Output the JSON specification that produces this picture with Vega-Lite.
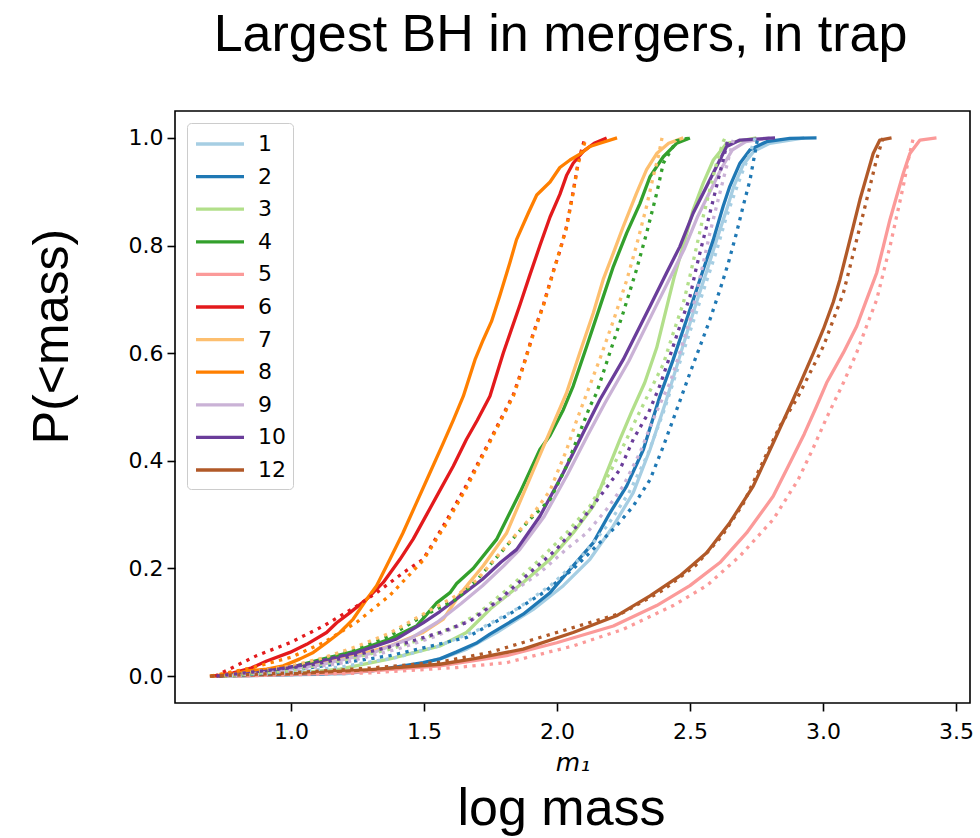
{
  "$schema": "https://vega.github.io/schema/vega-lite/v6.json",
  "width": 795,
  "height": 592,
  "autosize": {"type": "none"},
  "padding": {"left": 175, "top": 111, "right": 10, "bottom": 135},
  "background": "white",
  "title": {
    "text": "Largest BH in mergers, in trap",
    "font": "Liberation Sans", "fontSize": 52, "fontWeight": "normal", "color": "black",
    "frame": "group", "anchor": "middle", "dx": -12, "offset": 8, "baseline": "alphabetic"
  },
  "config": {
    "view": {"stroke": "black", "strokeWidth": 1.6},
    "legend": {
      "orient": "top-left", "offset": 12, "title": null,
      "symbolType": "M-1,0H3", "symbolSize": 576, "symbolStrokeWidth": 3.3,
      "labelFont": "DejaVu Sans", "labelFontSize": 22, "labelColor": "black", "labelOffset": 36,
      "rowPadding": 7.6, "padding": 7,
      "fillColor": "white", "strokeColor": "#cccccc", "cornerRadius": 4
    }
  },
  "data": {"values": [
    {"s":"1","kind":"ecdf","x":0.78,"y":0},{"s":"1","kind":"ecdf","x":1.2,"y":0.004},{"s":"1","kind":"ecdf","x":1.45,"y":0.018},{"s":"1","kind":"ecdf","x":1.58,"y":0.035},{"s":"1","kind":"ecdf","x":1.661,"y":0.05},{"s":"1","kind":"ecdf","x":1.773,"y":0.081},{"s":"1","kind":"ecdf","x":1.911,"y":0.124},{"s":"1","kind":"ecdf","x":2.024,"y":0.168},{"s":"1","kind":"ecdf","x":2.124,"y":0.217},{"s":"1","kind":"ecdf","x":2.212,"y":0.279},{"s":"1","kind":"ecdf","x":2.287,"y":0.341},{"s":"1","kind":"ecdf","x":2.35,"y":0.421},{"s":"1","kind":"ecdf","x":2.412,"y":0.514},{"s":"1","kind":"ecdf","x":2.45,"y":0.575},{"s":"1","kind":"ecdf","x":2.49,"y":0.64},{"s":"1","kind":"ecdf","x":2.525,"y":0.695},{"s":"1","kind":"ecdf","x":2.565,"y":0.755},{"s":"1","kind":"ecdf","x":2.6,"y":0.81},{"s":"1","kind":"ecdf","x":2.64,"y":0.87},{"s":"1","kind":"ecdf","x":2.665,"y":0.91},{"s":"1","kind":"ecdf","x":2.7,"y":0.95},{"s":"1","kind":"ecdf","x":2.74,"y":0.975},{"s":"1","kind":"ecdf","x":2.8,"y":0.99},{"s":"1","kind":"ecdf","x":2.93,"y":1.0},
    {"s":"1","kind":"fit","x":0.77,"y":0},{"s":"1","kind":"fit","x":1.0,"y":0.006},{"s":"1","kind":"fit","x":1.2,"y":0.018},{"s":"1","kind":"fit","x":1.4,"y":0.035},{"s":"1","kind":"fit","x":1.55,"y":0.055},{"s":"1","kind":"fit","x":1.7,"y":0.085},{"s":"1","kind":"fit","x":1.85,"y":0.125},{"s":"1","kind":"fit","x":1.98,"y":0.17},{"s":"1","kind":"fit","x":2.09,"y":0.22},{"s":"1","kind":"fit","x":2.19,"y":0.28},{"s":"1","kind":"fit","x":2.27,"y":0.34},{"s":"1","kind":"fit","x":2.34,"y":0.41},{"s":"1","kind":"fit","x":2.4,"y":0.49},{"s":"1","kind":"fit","x":2.44,"y":0.55},{"s":"1","kind":"fit","x":2.48,"y":0.61},{"s":"1","kind":"fit","x":2.52,"y":0.67},{"s":"1","kind":"fit","x":2.56,"y":0.73},{"s":"1","kind":"fit","x":2.6,"y":0.79},{"s":"1","kind":"fit","x":2.635,"y":0.85},{"s":"1","kind":"fit","x":2.67,"y":0.9},{"s":"1","kind":"fit","x":2.7,"y":0.94},{"s":"1","kind":"fit","x":2.725,"y":0.97},{"s":"1","kind":"fit","x":2.745,"y":1.0},
    {"s":"2","kind":"ecdf","x":0.75,"y":0},{"s":"2","kind":"ecdf","x":1.122,"y":0.004},{"s":"2","kind":"ecdf","x":1.31,"y":0.01},{"s":"2","kind":"ecdf","x":1.497,"y":0.025},{"s":"2","kind":"ecdf","x":1.56,"y":0.032},{"s":"2","kind":"ecdf","x":1.623,"y":0.045},{"s":"2","kind":"ecdf","x":1.7,"y":0.062},{"s":"2","kind":"ecdf","x":1.748,"y":0.078},{"s":"2","kind":"ecdf","x":1.873,"y":0.115},{"s":"2","kind":"ecdf","x":1.974,"y":0.155},{"s":"2","kind":"ecdf","x":2.061,"y":0.205},{"s":"2","kind":"ecdf","x":2.137,"y":0.248},{"s":"2","kind":"ecdf","x":2.199,"y":0.303},{"s":"2","kind":"ecdf","x":2.262,"y":0.353},{"s":"2","kind":"ecdf","x":2.325,"y":0.421},{"s":"2","kind":"ecdf","x":2.387,"y":0.52},{"s":"2","kind":"ecdf","x":2.437,"y":0.588},{"s":"2","kind":"ecdf","x":2.475,"y":0.644},{"s":"2","kind":"ecdf","x":2.512,"y":0.699},{"s":"2","kind":"ecdf","x":2.55,"y":0.755},{"s":"2","kind":"ecdf","x":2.588,"y":0.811},{"s":"2","kind":"ecdf","x":2.625,"y":0.873},{"s":"2","kind":"ecdf","x":2.65,"y":0.91},{"s":"2","kind":"ecdf","x":2.688,"y":0.953},{"s":"2","kind":"ecdf","x":2.726,"y":0.978},{"s":"2","kind":"ecdf","x":2.788,"y":0.993},{"s":"2","kind":"ecdf","x":2.876,"y":0.999},{"s":"2","kind":"ecdf","x":2.976,"y":1.0},
    {"s":"2","kind":"fit","x":0.75,"y":0},{"s":"2","kind":"fit","x":0.93,"y":0.006},{"s":"2","kind":"fit","x":1.122,"y":0.019},{"s":"2","kind":"fit","x":1.372,"y":0.038},{"s":"2","kind":"fit","x":1.52,"y":0.055},{"s":"2","kind":"fit","x":1.661,"y":0.072},{"s":"2","kind":"fit","x":1.811,"y":0.112},{"s":"2","kind":"fit","x":1.949,"y":0.155},{"s":"2","kind":"fit","x":2.061,"y":0.199},{"s":"2","kind":"fit","x":2.149,"y":0.242},{"s":"2","kind":"fit","x":2.224,"y":0.279},{"s":"2","kind":"fit","x":2.287,"y":0.316},{"s":"2","kind":"fit","x":2.35,"y":0.365},{"s":"2","kind":"fit","x":2.4,"y":0.427},{"s":"2","kind":"fit","x":2.437,"y":0.477},{"s":"2","kind":"fit","x":2.462,"y":0.511},{"s":"2","kind":"fit","x":2.5,"y":0.563},{"s":"2","kind":"fit","x":2.538,"y":0.613},{"s":"2","kind":"fit","x":2.575,"y":0.662},{"s":"2","kind":"fit","x":2.613,"y":0.718},{"s":"2","kind":"fit","x":2.644,"y":0.767},{"s":"2","kind":"fit","x":2.675,"y":0.823},{"s":"2","kind":"fit","x":2.7,"y":0.873},{"s":"2","kind":"fit","x":2.726,"y":0.922},{"s":"2","kind":"fit","x":2.744,"y":0.971},{"s":"2","kind":"fit","x":2.755,"y":1.0},
    {"s":"3","kind":"ecdf","x":0.75,"y":0},{"s":"3","kind":"ecdf","x":0.996,"y":0.004},{"s":"3","kind":"ecdf","x":1.184,"y":0.013},{"s":"3","kind":"ecdf","x":1.372,"y":0.032},{"s":"3","kind":"ecdf","x":1.56,"y":0.056},{"s":"3","kind":"ecdf","x":1.66,"y":0.081},{"s":"3","kind":"ecdf","x":1.75,"y":0.125},{"s":"3","kind":"ecdf","x":1.873,"y":0.174},{"s":"3","kind":"ecdf","x":1.974,"y":0.217},{"s":"3","kind":"ecdf","x":2.061,"y":0.266},{"s":"3","kind":"ecdf","x":2.137,"y":0.316},{"s":"3","kind":"ecdf","x":2.187,"y":0.378},{"s":"3","kind":"ecdf","x":2.237,"y":0.44},{"s":"3","kind":"ecdf","x":2.28,"y":0.49},{"s":"3","kind":"ecdf","x":2.33,"y":0.545},{"s":"3","kind":"ecdf","x":2.375,"y":0.61},{"s":"3","kind":"ecdf","x":2.41,"y":0.68},{"s":"3","kind":"ecdf","x":2.44,"y":0.74},{"s":"3","kind":"ecdf","x":2.475,"y":0.8},{"s":"3","kind":"ecdf","x":2.512,"y":0.866},{"s":"3","kind":"ecdf","x":2.55,"y":0.916},{"s":"3","kind":"ecdf","x":2.588,"y":0.959},{"s":"3","kind":"ecdf","x":2.638,"y":0.99},{"s":"3","kind":"ecdf","x":2.75,"y":1.0},
    {"s":"3","kind":"fit","x":0.75,"y":0},{"s":"3","kind":"fit","x":0.996,"y":0.01},{"s":"3","kind":"fit","x":1.184,"y":0.028},{"s":"3","kind":"fit","x":1.372,"y":0.05},{"s":"3","kind":"fit","x":1.497,"y":0.069},{"s":"3","kind":"fit","x":1.623,"y":0.093},{"s":"3","kind":"fit","x":1.7,"y":0.115},{"s":"3","kind":"fit","x":1.811,"y":0.16},{"s":"3","kind":"fit","x":1.936,"y":0.217},{"s":"3","kind":"fit","x":2.036,"y":0.266},{"s":"3","kind":"fit","x":2.124,"y":0.316},{"s":"3","kind":"fit","x":2.199,"y":0.378},{"s":"3","kind":"fit","x":2.262,"y":0.44},{"s":"3","kind":"fit","x":2.3,"y":0.48},{"s":"3","kind":"fit","x":2.35,"y":0.53},{"s":"3","kind":"fit","x":2.4,"y":0.58},{"s":"3","kind":"fit","x":2.437,"y":0.637},{"s":"3","kind":"fit","x":2.475,"y":0.693},{"s":"3","kind":"fit","x":2.5,"y":0.743},{"s":"3","kind":"fit","x":2.525,"y":0.798},{"s":"3","kind":"fit","x":2.55,"y":0.854},{"s":"3","kind":"fit","x":2.575,"y":0.904},{"s":"3","kind":"fit","x":2.6,"y":0.953},{"s":"3","kind":"fit","x":2.625,"y":0.993},{"s":"3","kind":"fit","x":2.632,"y":1.0},
    {"s":"4","kind":"ecdf","x":0.73,"y":0},{"s":"4","kind":"ecdf","x":0.871,"y":0.006},{"s":"4","kind":"ecdf","x":0.996,"y":0.016},{"s":"4","kind":"ecdf","x":1.122,"y":0.032},{"s":"4","kind":"ecdf","x":1.247,"y":0.047},{"s":"4","kind":"ecdf","x":1.372,"y":0.069},{"s":"4","kind":"ecdf","x":1.472,"y":0.093},{"s":"4","kind":"ecdf","x":1.548,"y":0.136},{"s":"4","kind":"ecdf","x":1.598,"y":0.155},{"s":"4","kind":"ecdf","x":1.623,"y":0.172},{"s":"4","kind":"ecdf","x":1.685,"y":0.2},{"s":"4","kind":"ecdf","x":1.773,"y":0.254},{"s":"4","kind":"ecdf","x":1.861,"y":0.341},{"s":"4","kind":"ecdf","x":1.936,"y":0.421},{"s":"4","kind":"ecdf","x":1.974,"y":0.447},{"s":"4","kind":"ecdf","x":2.024,"y":0.495},{"s":"4","kind":"ecdf","x":2.061,"y":0.539},{"s":"4","kind":"ecdf","x":2.112,"y":0.613},{"s":"4","kind":"ecdf","x":2.162,"y":0.687},{"s":"4","kind":"ecdf","x":2.212,"y":0.761},{"s":"4","kind":"ecdf","x":2.262,"y":0.823},{"s":"4","kind":"ecdf","x":2.312,"y":0.878},{"s":"4","kind":"ecdf","x":2.35,"y":0.928},{"s":"4","kind":"ecdf","x":2.4,"y":0.965},{"s":"4","kind":"ecdf","x":2.45,"y":0.99},{"s":"4","kind":"ecdf","x":2.5,"y":1.0},
    {"s":"4","kind":"fit","x":0.75,"y":0},{"s":"4","kind":"fit","x":0.996,"y":0.016},{"s":"4","kind":"fit","x":1.122,"y":0.032},{"s":"4","kind":"fit","x":1.247,"y":0.05},{"s":"4","kind":"fit","x":1.372,"y":0.075},{"s":"4","kind":"fit","x":1.497,"y":0.112},{"s":"4","kind":"fit","x":1.623,"y":0.143},{"s":"4","kind":"fit","x":1.698,"y":0.178},{"s":"4","kind":"fit","x":1.811,"y":0.242},{"s":"4","kind":"fit","x":1.898,"y":0.291},{"s":"4","kind":"fit","x":1.974,"y":0.328},{"s":"4","kind":"fit","x":2.036,"y":0.39},{"s":"4","kind":"fit","x":2.124,"y":0.501},{"s":"4","kind":"fit","x":2.149,"y":0.526},{"s":"4","kind":"fit","x":2.199,"y":0.601},{"s":"4","kind":"fit","x":2.249,"y":0.675},{"s":"4","kind":"fit","x":2.299,"y":0.755},{"s":"4","kind":"fit","x":2.337,"y":0.823},{"s":"4","kind":"fit","x":2.375,"y":0.897},{"s":"4","kind":"fit","x":2.4,"y":0.953},{"s":"4","kind":"fit","x":2.45,"y":0.995},{"s":"4","kind":"fit","x":2.5,"y":1.0},
    {"s":"5","kind":"ecdf","x":0.75,"y":0},{"s":"5","kind":"ecdf","x":1.2,"y":0.006},{"s":"5","kind":"ecdf","x":1.56,"y":0.019},{"s":"5","kind":"ecdf","x":1.811,"y":0.038},{"s":"5","kind":"ecdf","x":1.999,"y":0.062},{"s":"5","kind":"ecdf","x":2.212,"y":0.093},{"s":"5","kind":"ecdf","x":2.375,"y":0.131},{"s":"5","kind":"ecdf","x":2.5,"y":0.168},{"s":"5","kind":"ecdf","x":2.613,"y":0.211},{"s":"5","kind":"ecdf","x":2.713,"y":0.266},{"s":"5","kind":"ecdf","x":2.813,"y":0.334},{"s":"5","kind":"ecdf","x":2.88,"y":0.4},{"s":"5","kind":"ecdf","x":2.93,"y":0.45},{"s":"5","kind":"ecdf","x":2.975,"y":0.5},{"s":"5","kind":"ecdf","x":3.014,"y":0.545},{"s":"5","kind":"ecdf","x":3.077,"y":0.601},{"s":"5","kind":"ecdf","x":3.127,"y":0.65},{"s":"5","kind":"ecdf","x":3.164,"y":0.699},{"s":"5","kind":"ecdf","x":3.202,"y":0.749},{"s":"5","kind":"ecdf","x":3.227,"y":0.798},{"s":"5","kind":"ecdf","x":3.252,"y":0.848},{"s":"5","kind":"ecdf","x":3.277,"y":0.891},{"s":"5","kind":"ecdf","x":3.302,"y":0.934},{"s":"5","kind":"ecdf","x":3.327,"y":0.971},{"s":"5","kind":"ecdf","x":3.365,"y":0.996},{"s":"5","kind":"ecdf","x":3.427,"y":1.0},
    {"s":"5","kind":"fit","x":0.8,"y":0},{"s":"5","kind":"fit","x":1.3,"y":0.006},{"s":"5","kind":"fit","x":1.623,"y":0.016},{"s":"5","kind":"fit","x":1.811,"y":0.025},{"s":"5","kind":"fit","x":2.061,"y":0.056},{"s":"5","kind":"fit","x":2.249,"y":0.087},{"s":"5","kind":"fit","x":2.437,"y":0.131},{"s":"5","kind":"fit","x":2.563,"y":0.168},{"s":"5","kind":"fit","x":2.688,"y":0.223},{"s":"5","kind":"fit","x":2.813,"y":0.291},{"s":"5","kind":"fit","x":2.907,"y":0.365},{"s":"5","kind":"fit","x":2.96,"y":0.42},{"s":"5","kind":"fit","x":3.014,"y":0.48},{"s":"5","kind":"fit","x":3.077,"y":0.545},{"s":"5","kind":"fit","x":3.127,"y":0.601},{"s":"5","kind":"fit","x":3.164,"y":0.65},{"s":"5","kind":"fit","x":3.202,"y":0.699},{"s":"5","kind":"fit","x":3.227,"y":0.749},{"s":"5","kind":"fit","x":3.252,"y":0.798},{"s":"5","kind":"fit","x":3.277,"y":0.854},{"s":"5","kind":"fit","x":3.302,"y":0.91},{"s":"5","kind":"fit","x":3.321,"y":0.959},{"s":"5","kind":"fit","x":3.34,"y":1.0},
    {"s":"6","kind":"ecdf","x":0.72,"y":0},{"s":"6","kind":"ecdf","x":0.783,"y":0.006},{"s":"6","kind":"ecdf","x":0.85,"y":0.015},{"s":"6","kind":"ecdf","x":0.909,"y":0.028},{"s":"6","kind":"ecdf","x":0.996,"y":0.044},{"s":"6","kind":"ecdf","x":1.059,"y":0.059},{"s":"6","kind":"ecdf","x":1.134,"y":0.081},{"s":"6","kind":"ecdf","x":1.172,"y":0.099},{"s":"6","kind":"ecdf","x":1.222,"y":0.118},{"s":"6","kind":"ecdf","x":1.285,"y":0.143},{"s":"6","kind":"ecdf","x":1.347,"y":0.174},{"s":"6","kind":"ecdf","x":1.41,"y":0.217},{"s":"6","kind":"ecdf","x":1.46,"y":0.255},{"s":"6","kind":"ecdf","x":1.51,"y":0.3},{"s":"6","kind":"ecdf","x":1.56,"y":0.345},{"s":"6","kind":"ecdf","x":1.61,"y":0.39},{"s":"6","kind":"ecdf","x":1.66,"y":0.44},{"s":"6","kind":"ecdf","x":1.7,"y":0.475},{"s":"6","kind":"ecdf","x":1.748,"y":0.52},{"s":"6","kind":"ecdf","x":1.798,"y":0.6},{"s":"6","kind":"ecdf","x":1.861,"y":0.69},{"s":"6","kind":"ecdf","x":1.898,"y":0.745},{"s":"6","kind":"ecdf","x":1.936,"y":0.8},{"s":"6","kind":"ecdf","x":1.974,"y":0.853},{"s":"6","kind":"ecdf","x":2.011,"y":0.895},{"s":"6","kind":"ecdf","x":2.036,"y":0.93},{"s":"6","kind":"ecdf","x":2.061,"y":0.953},{"s":"6","kind":"ecdf","x":2.099,"y":0.975},{"s":"6","kind":"ecdf","x":2.14,"y":0.99},{"s":"6","kind":"ecdf","x":2.187,"y":1.0},
    {"s":"6","kind":"fit","x":0.715,"y":0},{"s":"6","kind":"fit","x":0.871,"y":0.038},{"s":"6","kind":"fit","x":0.996,"y":0.062},{"s":"6","kind":"fit","x":1.122,"y":0.093},{"s":"6","kind":"fit","x":1.247,"y":0.13},{"s":"6","kind":"fit","x":1.322,"y":0.155},{"s":"6","kind":"fit","x":1.422,"y":0.192},{"s":"6","kind":"fit","x":1.497,"y":0.217},{"s":"6","kind":"fit","x":1.58,"y":0.285},{"s":"6","kind":"fit","x":1.66,"y":0.355},{"s":"6","kind":"fit","x":1.75,"y":0.44},{"s":"6","kind":"fit","x":1.836,"y":0.523},{"s":"6","kind":"fit","x":1.873,"y":0.576},{"s":"6","kind":"fit","x":1.911,"y":0.637},{"s":"6","kind":"fit","x":1.949,"y":0.69},{"s":"6","kind":"fit","x":1.986,"y":0.752},{"s":"6","kind":"fit","x":2.011,"y":0.79},{"s":"6","kind":"fit","x":2.036,"y":0.835},{"s":"6","kind":"fit","x":2.061,"y":0.9},{"s":"6","kind":"fit","x":2.08,"y":0.955},{"s":"6","kind":"fit","x":2.105,"y":1.0},
    {"s":"7","kind":"ecdf","x":0.75,"y":0},{"s":"7","kind":"ecdf","x":0.871,"y":0.004},{"s":"7","kind":"ecdf","x":1.059,"y":0.019},{"s":"7","kind":"ecdf","x":1.247,"y":0.038},{"s":"7","kind":"ecdf","x":1.372,"y":0.056},{"s":"7","kind":"ecdf","x":1.497,"y":0.081},{"s":"7","kind":"ecdf","x":1.573,"y":0.106},{"s":"7","kind":"ecdf","x":1.635,"y":0.152},{"s":"7","kind":"ecdf","x":1.673,"y":0.175},{"s":"7","kind":"ecdf","x":1.723,"y":0.205},{"s":"7","kind":"ecdf","x":1.811,"y":0.266},{"s":"7","kind":"ecdf","x":1.886,"y":0.353},{"s":"7","kind":"ecdf","x":1.961,"y":0.44},{"s":"7","kind":"ecdf","x":2.036,"y":0.526},{"s":"7","kind":"ecdf","x":2.086,"y":0.601},{"s":"7","kind":"ecdf","x":2.137,"y":0.675},{"s":"7","kind":"ecdf","x":2.174,"y":0.737},{"s":"7","kind":"ecdf","x":2.212,"y":0.786},{"s":"7","kind":"ecdf","x":2.249,"y":0.835},{"s":"7","kind":"ecdf","x":2.299,"y":0.897},{"s":"7","kind":"ecdf","x":2.337,"y":0.941},{"s":"7","kind":"ecdf","x":2.375,"y":0.971},{"s":"7","kind":"ecdf","x":2.42,"y":0.99},{"s":"7","kind":"ecdf","x":2.475,"y":1.0},
    {"s":"7","kind":"fit","x":0.75,"y":0},{"s":"7","kind":"fit","x":0.996,"y":0.018},{"s":"7","kind":"fit","x":1.122,"y":0.034},{"s":"7","kind":"fit","x":1.247,"y":0.055},{"s":"7","kind":"fit","x":1.372,"y":0.08},{"s":"7","kind":"fit","x":1.497,"y":0.115},{"s":"7","kind":"fit","x":1.623,"y":0.15},{"s":"7","kind":"fit","x":1.698,"y":0.178},{"s":"7","kind":"fit","x":1.811,"y":0.243},{"s":"7","kind":"fit","x":1.898,"y":0.293},{"s":"7","kind":"fit","x":1.974,"y":0.345},{"s":"7","kind":"fit","x":2.036,"y":0.42},{"s":"7","kind":"fit","x":2.074,"y":0.475},{"s":"7","kind":"fit","x":2.112,"y":0.525},{"s":"7","kind":"fit","x":2.162,"y":0.59},{"s":"7","kind":"fit","x":2.212,"y":0.66},{"s":"7","kind":"fit","x":2.262,"y":0.735},{"s":"7","kind":"fit","x":2.299,"y":0.8},{"s":"7","kind":"fit","x":2.337,"y":0.873},{"s":"7","kind":"fit","x":2.362,"y":0.928},{"s":"7","kind":"fit","x":2.381,"y":0.965},{"s":"7","kind":"fit","x":2.395,"y":1.0},
    {"s":"8","kind":"ecdf","x":0.695,"y":0},{"s":"8","kind":"ecdf","x":0.783,"y":0.004},{"s":"8","kind":"ecdf","x":0.846,"y":0.01},{"s":"8","kind":"ecdf","x":0.909,"y":0.013},{"s":"8","kind":"ecdf","x":0.971,"y":0.019},{"s":"8","kind":"ecdf","x":1.034,"y":0.032},{"s":"8","kind":"ecdf","x":1.084,"y":0.044},{"s":"8","kind":"ecdf","x":1.134,"y":0.062},{"s":"8","kind":"ecdf","x":1.184,"y":0.081},{"s":"8","kind":"ecdf","x":1.234,"y":0.106},{"s":"8","kind":"ecdf","x":1.285,"y":0.143},{"s":"8","kind":"ecdf","x":1.322,"y":0.168},{"s":"8","kind":"ecdf","x":1.372,"y":0.217},{"s":"8","kind":"ecdf","x":1.42,"y":0.265},{"s":"8","kind":"ecdf","x":1.47,"y":0.32},{"s":"8","kind":"ecdf","x":1.52,"y":0.375},{"s":"8","kind":"ecdf","x":1.57,"y":0.43},{"s":"8","kind":"ecdf","x":1.61,"y":0.475},{"s":"8","kind":"ecdf","x":1.648,"y":0.52},{"s":"8","kind":"ecdf","x":1.692,"y":0.588},{"s":"8","kind":"ecdf","x":1.723,"y":0.625},{"s":"8","kind":"ecdf","x":1.754,"y":0.659},{"s":"8","kind":"ecdf","x":1.786,"y":0.708},{"s":"8","kind":"ecdf","x":1.823,"y":0.768},{"s":"8","kind":"ecdf","x":1.848,"y":0.811},{"s":"8","kind":"ecdf","x":1.892,"y":0.86},{"s":"8","kind":"ecdf","x":1.924,"y":0.894},{"s":"8","kind":"ecdf","x":1.974,"y":0.918},{"s":"8","kind":"ecdf","x":2.011,"y":0.945},{"s":"8","kind":"ecdf","x":2.049,"y":0.959},{"s":"8","kind":"ecdf","x":2.086,"y":0.97},{"s":"8","kind":"ecdf","x":2.124,"y":0.984},{"s":"8","kind":"ecdf","x":2.162,"y":0.99},{"s":"8","kind":"ecdf","x":2.226,"y":1.0},
    {"s":"8","kind":"fit","x":0.7,"y":0},{"s":"8","kind":"fit","x":0.85,"y":0.015},{"s":"8","kind":"fit","x":1.0,"y":0.035},{"s":"8","kind":"fit","x":1.122,"y":0.062},{"s":"8","kind":"fit","x":1.247,"y":0.1},{"s":"8","kind":"fit","x":1.372,"y":0.15},{"s":"8","kind":"fit","x":1.497,"y":0.215},{"s":"8","kind":"fit","x":1.58,"y":0.28},{"s":"8","kind":"fit","x":1.66,"y":0.35},{"s":"8","kind":"fit","x":1.75,"y":0.437},{"s":"8","kind":"fit","x":1.836,"y":0.52},{"s":"8","kind":"fit","x":1.873,"y":0.574},{"s":"8","kind":"fit","x":1.911,"y":0.635},{"s":"8","kind":"fit","x":1.949,"y":0.688},{"s":"8","kind":"fit","x":1.986,"y":0.75},{"s":"8","kind":"fit","x":2.036,"y":0.833},{"s":"8","kind":"fit","x":2.061,"y":0.898},{"s":"8","kind":"fit","x":2.08,"y":0.953},{"s":"8","kind":"fit","x":2.11,"y":1.0},
    {"s":"9","kind":"ecdf","x":0.75,"y":0},{"s":"9","kind":"ecdf","x":0.9,"y":0.006},{"s":"9","kind":"ecdf","x":1.1,"y":0.02},{"s":"9","kind":"ecdf","x":1.3,"y":0.042},{"s":"9","kind":"ecdf","x":1.45,"y":0.07},{"s":"9","kind":"ecdf","x":1.55,"y":0.1},{"s":"9","kind":"ecdf","x":1.64,"y":0.135},{"s":"9","kind":"ecdf","x":1.72,"y":0.168},{"s":"9","kind":"ecdf","x":1.8,"y":0.205},{"s":"9","kind":"ecdf","x":1.86,"y":0.235},{"s":"9","kind":"ecdf","x":1.95,"y":0.295},{"s":"9","kind":"ecdf","x":2.04,"y":0.375},{"s":"9","kind":"ecdf","x":2.115,"y":0.447},{"s":"9","kind":"ecdf","x":2.18,"y":0.507},{"s":"9","kind":"ecdf","x":2.27,"y":0.585},{"s":"9","kind":"ecdf","x":2.365,"y":0.68},{"s":"9","kind":"ecdf","x":2.43,"y":0.745},{"s":"9","kind":"ecdf","x":2.48,"y":0.795},{"s":"9","kind":"ecdf","x":2.53,"y":0.855},{"s":"9","kind":"ecdf","x":2.58,"y":0.905},{"s":"9","kind":"ecdf","x":2.62,"y":0.945},{"s":"9","kind":"ecdf","x":2.66,"y":0.978},{"s":"9","kind":"ecdf","x":2.71,"y":0.993},{"s":"9","kind":"ecdf","x":2.8,"y":1.0},
    {"s":"9","kind":"fit","x":0.76,"y":0},{"s":"9","kind":"fit","x":1.0,"y":0.01},{"s":"9","kind":"fit","x":1.2,"y":0.025},{"s":"9","kind":"fit","x":1.4,"y":0.05},{"s":"9","kind":"fit","x":1.55,"y":0.075},{"s":"9","kind":"fit","x":1.685,"y":0.106},{"s":"9","kind":"fit","x":1.811,"y":0.149},{"s":"9","kind":"fit","x":1.936,"y":0.192},{"s":"9","kind":"fit","x":2.036,"y":0.236},{"s":"9","kind":"fit","x":2.112,"y":0.266},{"s":"9","kind":"fit","x":2.187,"y":0.31},{"s":"9","kind":"fit","x":2.249,"y":0.353},{"s":"9","kind":"fit","x":2.312,"y":0.415},{"s":"9","kind":"fit","x":2.362,"y":0.477},{"s":"9","kind":"fit","x":2.387,"y":0.505},{"s":"9","kind":"fit","x":2.425,"y":0.545},{"s":"9","kind":"fit","x":2.462,"y":0.601},{"s":"9","kind":"fit","x":2.5,"y":0.662},{"s":"9","kind":"fit","x":2.525,"y":0.712},{"s":"9","kind":"fit","x":2.55,"y":0.767},{"s":"9","kind":"fit","x":2.575,"y":0.823},{"s":"9","kind":"fit","x":2.6,"y":0.873},{"s":"9","kind":"fit","x":2.625,"y":0.922},{"s":"9","kind":"fit","x":2.65,"y":0.971},{"s":"9","kind":"fit","x":2.665,"y":1.0},
    {"s":"10","kind":"ecdf","x":0.73,"y":0},{"s":"10","kind":"ecdf","x":0.871,"y":0.006},{"s":"10","kind":"ecdf","x":1.059,"y":0.022},{"s":"10","kind":"ecdf","x":1.247,"y":0.044},{"s":"10","kind":"ecdf","x":1.397,"y":0.069},{"s":"10","kind":"ecdf","x":1.497,"y":0.099},{"s":"10","kind":"ecdf","x":1.56,"y":0.12},{"s":"10","kind":"ecdf","x":1.64,"y":0.15},{"s":"10","kind":"ecdf","x":1.72,"y":0.18},{"s":"10","kind":"ecdf","x":1.79,"y":0.212},{"s":"10","kind":"ecdf","x":1.848,"y":0.235},{"s":"10","kind":"ecdf","x":1.936,"y":0.297},{"s":"10","kind":"ecdf","x":2.024,"y":0.378},{"s":"10","kind":"ecdf","x":2.099,"y":0.452},{"s":"10","kind":"ecdf","x":2.162,"y":0.514},{"s":"10","kind":"ecdf","x":2.249,"y":0.588},{"s":"10","kind":"ecdf","x":2.35,"y":0.687},{"s":"10","kind":"ecdf","x":2.412,"y":0.749},{"s":"10","kind":"ecdf","x":2.462,"y":0.798},{"s":"10","kind":"ecdf","x":2.512,"y":0.86},{"s":"10","kind":"ecdf","x":2.563,"y":0.91},{"s":"10","kind":"ecdf","x":2.6,"y":0.947},{"s":"10","kind":"ecdf","x":2.638,"y":0.984},{"s":"10","kind":"ecdf","x":2.688,"y":0.996},{"s":"10","kind":"ecdf","x":2.82,"y":1.0},
    {"s":"10","kind":"fit","x":0.72,"y":0},{"s":"10","kind":"fit","x":0.9,"y":0.01},{"s":"10","kind":"fit","x":1.059,"y":0.019},{"s":"10","kind":"fit","x":1.184,"y":0.032},{"s":"10","kind":"fit","x":1.31,"y":0.047},{"s":"10","kind":"fit","x":1.435,"y":0.062},{"s":"10","kind":"fit","x":1.56,"y":0.081},{"s":"10","kind":"fit","x":1.673,"y":0.102},{"s":"10","kind":"fit","x":1.786,"y":0.143},{"s":"10","kind":"fit","x":1.898,"y":0.192},{"s":"10","kind":"fit","x":1.999,"y":0.236},{"s":"10","kind":"fit","x":2.086,"y":0.285},{"s":"10","kind":"fit","x":2.162,"y":0.334},{"s":"10","kind":"fit","x":2.237,"y":0.384},{"s":"10","kind":"fit","x":2.287,"y":0.44},{"s":"10","kind":"fit","x":2.345,"y":0.49},{"s":"10","kind":"fit","x":2.387,"y":0.54},{"s":"10","kind":"fit","x":2.425,"y":0.595},{"s":"10","kind":"fit","x":2.462,"y":0.65},{"s":"10","kind":"fit","x":2.5,"y":0.705},{"s":"10","kind":"fit","x":2.525,"y":0.761},{"s":"10","kind":"fit","x":2.55,"y":0.811},{"s":"10","kind":"fit","x":2.575,"y":0.86},{"s":"10","kind":"fit","x":2.6,"y":0.91},{"s":"10","kind":"fit","x":2.625,"y":0.959},{"s":"10","kind":"fit","x":2.644,"y":1.0},
    {"s":"12","kind":"ecdf","x":0.695,"y":0},{"s":"12","kind":"ecdf","x":1.0,"y":0.004},{"s":"12","kind":"ecdf","x":1.3,"y":0.012},{"s":"12","kind":"ecdf","x":1.56,"y":0.022},{"s":"12","kind":"ecdf","x":1.685,"y":0.032},{"s":"12","kind":"ecdf","x":1.873,"y":0.05},{"s":"12","kind":"ecdf","x":2.061,"y":0.081},{"s":"12","kind":"ecdf","x":2.224,"y":0.112},{"s":"12","kind":"ecdf","x":2.35,"y":0.149},{"s":"12","kind":"ecdf","x":2.462,"y":0.186},{"s":"12","kind":"ecdf","x":2.563,"y":0.229},{"s":"12","kind":"ecdf","x":2.65,"y":0.285},{"s":"12","kind":"ecdf","x":2.738,"y":0.353},{"s":"12","kind":"ecdf","x":2.813,"y":0.433},{"s":"12","kind":"ecdf","x":2.888,"y":0.514},{"s":"12","kind":"ecdf","x":2.92,"y":0.55},{"s":"12","kind":"ecdf","x":2.964,"y":0.6},{"s":"12","kind":"ecdf","x":3.002,"y":0.645},{"s":"12","kind":"ecdf","x":3.039,"y":0.695},{"s":"12","kind":"ecdf","x":3.064,"y":0.737},{"s":"12","kind":"ecdf","x":3.089,"y":0.786},{"s":"12","kind":"ecdf","x":3.114,"y":0.835},{"s":"12","kind":"ecdf","x":3.139,"y":0.885},{"s":"12","kind":"ecdf","x":3.164,"y":0.928},{"s":"12","kind":"ecdf","x":3.189,"y":0.971},{"s":"12","kind":"ecdf","x":3.214,"y":0.996},{"s":"12","kind":"ecdf","x":3.258,"y":1.0},
    {"s":"12","kind":"fit","x":0.7,"y":0},{"s":"12","kind":"fit","x":1.0,"y":0.006},{"s":"12","kind":"fit","x":1.3,"y":0.015},{"s":"12","kind":"fit","x":1.56,"y":0.026},{"s":"12","kind":"fit","x":1.748,"y":0.044},{"s":"12","kind":"fit","x":1.999,"y":0.081},{"s":"12","kind":"fit","x":2.249,"y":0.118},{"s":"12","kind":"fit","x":2.4,"y":0.16},{"s":"12","kind":"fit","x":2.52,"y":0.205},{"s":"12","kind":"fit","x":2.62,"y":0.26},{"s":"12","kind":"fit","x":2.7,"y":0.32},{"s":"12","kind":"fit","x":2.776,"y":0.4},{"s":"12","kind":"fit","x":2.839,"y":0.465},{"s":"12","kind":"fit","x":2.901,"y":0.514},{"s":"12","kind":"fit","x":2.951,"y":0.563},{"s":"12","kind":"fit","x":3.002,"y":0.613},{"s":"12","kind":"fit","x":3.039,"y":0.662},{"s":"12","kind":"fit","x":3.077,"y":0.712},{"s":"12","kind":"fit","x":3.102,"y":0.761},{"s":"12","kind":"fit","x":3.127,"y":0.811},{"s":"12","kind":"fit","x":3.152,"y":0.86},{"s":"12","kind":"fit","x":3.177,"y":0.91},{"s":"12","kind":"fit","x":3.201,"y":0.959},{"s":"12","kind":"fit","x":3.226,"y":1.0}
  ]},
  "layer": [
    {
      "transform": [{"filter": "datum.kind === 'ecdf'"}],
      "mark": {"type": "line", "strokeWidth": 3.3, "strokeJoin": "round"},
      "encoding": {
        "x": {
          "field": "x", "type": "quantitative",
          "scale": {"domain": [0.564, 3.553], "nice": false, "zero": false},
          "axis": {
            "values": [1, 1.5, 2, 2.5, 3, 3.5], "format": ".1f", "grid": false, "domain": false,
            "title": "m₁", "titleFont": "DejaVu Sans", "titleFontStyle": "italic", "titleFontSize": 25,
            "titleFontWeight": "normal", "titleColor": "black", "titlePadding": 8,
            "labelFont": "DejaVu Sans", "labelFontSize": 22, "labelColor": "black", "labelPadding": 10,
            "labelFlush": false, "labelOverlap": false,
            "tickSize": 8, "tickColor": "black", "tickWidth": 1.6
          }
        },
        "y": {
          "field": "y", "type": "quantitative",
          "scale": {"domain": [-0.05, 1.05], "nice": false, "zero": false},
          "axis": {
            "values": [0, 0.2, 0.4, 0.6, 0.8, 1.0], "format": ".1f", "grid": false, "domain": false,
            "title": "P(<mass)", "titleFont": "Liberation Sans", "titleFontSize": 50,
            "titleFontWeight": "normal", "titleColor": "black",
            "titleX": -123, "titleY": 225, "titleAngle": -90, "titleAlign": "center", "titleBaseline": "middle",
            "labelFont": "DejaVu Sans", "labelFontSize": 22, "labelColor": "black", "labelPadding": 4,
            "labelFlush": false, "labelOverlap": false,
            "tickSize": 8, "tickColor": "black", "tickWidth": 1.6
          }
        },
        "color": {
          "field": "s", "type": "nominal",
          "scale": {
            "domain": ["1", "2", "3", "4", "5", "6", "7", "8", "9", "10", "12"],
            "range": ["#a6cee3", "#1f78b4", "#b2df8a", "#33a02c", "#fb9a99", "#e31a1c", "#fdbf6f", "#ff7f00", "#cab2d6", "#6a3d9a", "#b15928"]
          },
          "legend": {}
        }
      }
    },
    {
      "transform": [{"filter": "datum.kind === 'fit'"}],
      "mark": {"type": "line", "strokeWidth": 3.3, "strokeDash": [3.3, 5.4], "strokeCap": "butt"},
      "encoding": {
        "x": {
          "field": "x", "type": "quantitative",
          "scale": {"domain": [0.564, 3.553], "nice": false, "zero": false},
          "axis": {
            "orient": "bottom", "labels": false, "ticks": false, "domain": false, "grid": false,
            "title": "log mass", "titleFont": "Liberation Sans", "titleFontSize": 52,
            "titleFontWeight": "normal", "titleColor": "black", "titlePadding": 80,
            "titleX": 386, "titleAlign": "center"
          }
        },
        "y": {
          "field": "y", "type": "quantitative",
          "scale": {"domain": [-0.05, 1.05], "nice": false, "zero": false}
        },
        "color": {"field": "s", "type": "nominal", "legend": null}
      }
    }
  ],
  "resolve": {"axis": {"x": "independent"}}
}
